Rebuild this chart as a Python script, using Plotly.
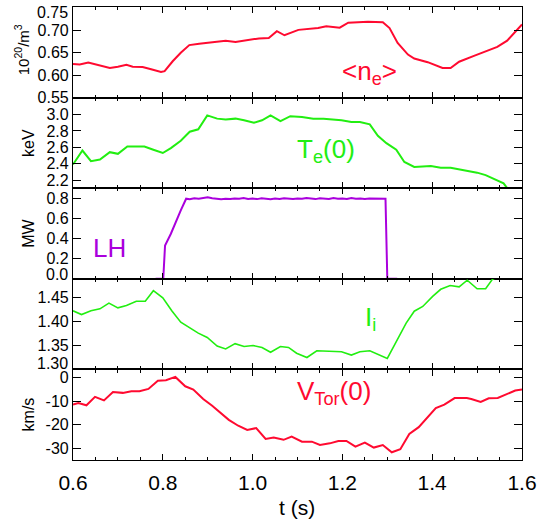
import plotly.graph_objects as go
from plotly.subplots import make_subplots

# ---------------- data ----------------
ne_t = [0.600, 0.615, 0.634, 0.660, 0.682, 0.700, 0.719, 0.733, 0.755, 0.774, 0.796,
        0.804, 0.822, 0.840, 0.859, 0.881, 0.910, 0.940, 0.962, 0.984, 1.014, 1.036,
        1.047, 1.054, 1.071, 1.102, 1.146, 1.164, 1.194, 1.213, 1.257, 1.290, 1.305,
        1.323, 1.346, 1.360, 1.390, 1.412, 1.423, 1.441, 1.460, 1.493, 1.523, 1.545,
        1.567, 1.585, 1.600]
ne_v = [0.625, 0.624, 0.628, 0.622, 0.616, 0.619, 0.623, 0.619, 0.618, 0.613, 0.607,
        0.609, 0.631, 0.650, 0.667, 0.670, 0.674, 0.677, 0.674, 0.678, 0.682, 0.683,
        0.693, 0.698, 0.689, 0.701, 0.705, 0.709, 0.706, 0.717, 0.719, 0.718, 0.705,
        0.672, 0.646, 0.637, 0.629, 0.620, 0.616, 0.616, 0.630, 0.643, 0.654, 0.663,
        0.677, 0.698, 0.713]

te_t = [0.600, 0.621, 0.640, 0.660, 0.682, 0.700, 0.721, 0.759, 0.779, 0.800, 0.818,
        0.840, 0.860, 0.879, 0.899, 0.921, 0.940, 0.962, 0.981, 1.003, 1.021, 1.040,
        1.062, 1.084, 1.110, 1.135, 1.158, 1.180, 1.198, 1.220, 1.239, 1.261, 1.279,
        1.298, 1.320, 1.338, 1.360, 1.397, 1.419, 1.441, 1.460, 1.478, 1.500, 1.519,
        1.545, 1.559, 1.567]
te_v = [2.39, 2.56, 2.43, 2.45, 2.54, 2.52, 2.61, 2.61, 2.57, 2.53, 2.59,
        2.68, 2.79, 2.82, 2.99, 2.95, 2.94, 2.95, 2.93, 2.90, 2.93, 2.99,
        2.92, 2.98, 2.97, 2.95, 2.95, 2.94, 2.93, 2.91, 2.91, 2.88, 2.74,
        2.65, 2.57, 2.42, 2.36, 2.37, 2.35, 2.35, 2.33, 2.31, 2.29, 2.26,
        2.20, 2.16, 2.10]

lh_t = [0.784, 0.801, 0.805, 0.818, 0.840, 0.852,
        0.86, 0.87, 0.88, 0.89, 0.90, 0.91, 0.92, 0.93, 0.94, 0.95,
        0.96, 0.97, 0.98, 0.99, 1.00, 1.01, 1.02, 1.03, 1.04, 1.05,
        1.06, 1.07, 1.08, 1.09, 1.10, 1.11, 1.12, 1.13, 1.14, 1.15,
        1.16, 1.17, 1.18, 1.19, 1.20, 1.21, 1.22, 1.23, 1.24, 1.25,
        1.26, 1.27, 1.28, 1.29, 1.296, 1.300, 1.322]
lh_v = [0.0, 0.0, 0.333, 0.45, 0.683, 0.80,
        0.795, 0.805, 0.80, 0.806, 0.815, 0.805, 0.798, 0.795, 0.80, 0.797,
        0.803, 0.799, 0.806, 0.798, 0.801, 0.796, 0.804, 0.800, 0.795, 0.802,
        0.798, 0.805, 0.800, 0.797, 0.803, 0.799, 0.808, 0.800, 0.796, 0.804,
        0.801, 0.797, 0.806, 0.799, 0.802, 0.798, 0.808, 0.800, 0.803, 0.797,
        0.801, 0.799, 0.804, 0.797, 0.800, 0.0, 0.0]

ii_t = [0.600, 0.619, 0.640, 0.660, 0.680, 0.700, 0.719, 0.741, 0.761, 0.779, 0.800,
        0.820, 0.840, 0.859, 0.879, 0.899, 0.921, 0.940, 0.961, 0.981, 1.001, 1.021,
        1.040, 1.062, 1.080, 1.098, 1.121, 1.143, 1.176, 1.198, 1.220, 1.239, 1.261,
        1.279, 1.300, 1.320, 1.342, 1.360, 1.379, 1.401, 1.419, 1.440, 1.460, 1.478,
        1.500, 1.519, 1.534, 1.560]
ii_v = [1.423, 1.415, 1.423, 1.427, 1.439, 1.429, 1.434, 1.443, 1.443, 1.465, 1.450,
        1.423, 1.399, 1.388, 1.376, 1.367, 1.349, 1.343, 1.354, 1.348, 1.350, 1.346,
        1.336, 1.348, 1.346, 1.334, 1.325, 1.339, 1.338, 1.337, 1.330, 1.337, 1.339,
        1.332, 1.323, 1.358, 1.397, 1.422, 1.432, 1.453, 1.468, 1.476, 1.473, 1.487,
        1.469, 1.469, 1.489, 1.500]

vt_t = [0.600, 0.612, 0.630, 0.649, 0.669, 0.689, 0.711, 0.730, 0.748, 0.768, 0.789,
        0.807, 0.828, 0.850, 0.868, 0.890, 0.910, 0.929, 0.947, 0.968, 0.988, 1.008,
        1.029, 1.047, 1.069, 1.087, 1.110, 1.132, 1.150, 1.172, 1.191, 1.209, 1.229,
        1.250, 1.270, 1.290, 1.310, 1.329, 1.349, 1.370, 1.390, 1.408, 1.427, 1.450,
        1.477, 1.487, 1.508, 1.526, 1.546, 1.565, 1.585, 1.600]
vt_v = [-11.4, -10.7, -11.7, -8.1, -9.6, -6.0, -6.4, -5.7, -5.7, -4.7, -1.2,
        -1.0, 0.4, -3.6, -5.0, -9.0, -11.9, -15.0, -17.9, -20.4, -22.2, -21.4,
        -26.0, -25.4, -26.4, -25.0, -27.2, -27.2, -28.6, -27.9, -26.9, -26.9, -29.3,
        -27.6, -29.7, -28.6, -31.7, -30.4, -23.9, -21.0, -16.5, -12.9, -11.4, -8.6,
        -8.6, -9.0, -10.3, -8.7, -8.6, -6.9, -5.4, -5.0]

x_ticks = [0.6, 0.8, 1.0, 1.2, 1.4, 1.6]
ne_ticks = [0.55, 0.60, 0.65, 0.70, 0.75]
ne_ticktext = ["0.55", "0.60", "0.65", "0.70", " "]
te_ticks = [2.2, 2.4, 2.6, 2.8, 3.0]
lh_ticks = [0.0, 0.2, 0.4, 0.6, 0.8]
lh_ticktext = [" ", "0.2", "0.4", "0.6", "0.8"]
ii_ticks = [1.30, 1.35, 1.40, 1.45]
ii_ticktext = [" ", "1.35", "1.40", "1.45"]
vt_ticks = [0, -10, -20, -30]
vt_ticktext = ["0", "-10", "-20", "-30"]
edge_labels = ["0.75", "0.0", "1.30"]

RED = "#ff0a30"
GREEN = "#22ee11"
PURPLE = "#aa00dd"
FONT = "Liberation Sans, Arial, sans-serif"

fig = make_subplots(rows=5, cols=1, shared_xaxes=True, vertical_spacing=0)

fig.add_trace(go.Scatter(x=ne_t, y=ne_v, mode="lines", line=dict(color=RED, width=2)), row=1, col=1)
fig.add_trace(go.Scatter(x=te_t, y=te_v, mode="lines", line=dict(color=GREEN, width=2)), row=2, col=1)
fig.add_trace(go.Scatter(x=lh_t, y=lh_v, mode="lines", line=dict(color=PURPLE, width=2)), row=3, col=1)
fig.add_trace(go.Scatter(x=ii_t, y=ii_v, mode="lines", line=dict(color=GREEN, width=1.6)), row=4, col=1)
fig.add_trace(go.Scatter(x=vt_t, y=vt_v, mode="lines", line=dict(color=RED, width=2)), row=5, col=1)

for r in range(1, 6):
    fig.update_xaxes(range=[0.6, 1.6], showline=True, linecolor="black", linewidth=1.2,
                     mirror="ticks", ticks="inside", ticklen=6, tickwidth=1.2, tickcolor="black",
                     tickvals=x_ticks, tickformat=".1f",
                     minor=dict(tick0=0.6, dtick=0.05, ticks="inside", ticklen=3,
                                tickwidth=1, tickcolor="black"),
                     showgrid=False, zeroline=False, showticklabels=(r == 5),
                     tickfont=dict(size=21, family=FONT, color="black"),
                     ticklabelstandoff=4, row=r, col=1)

yopts = dict(showline=True, linecolor="black", linewidth=1.2, mirror="ticks",
             ticks="inside", ticklen=8, tickwidth=1.2, tickcolor="black",
             showgrid=False, zeroline=False,
             tickfont=dict(size=16, family=FONT, color="black"))
fig.update_yaxes(range=[0.55, 0.752], tickvals=ne_ticks, ticktext=ne_ticktext, row=1, col=1, **yopts)
fig.update_yaxes(range=[2.1, 3.207], tickvals=te_ticks, tickformat=".1f", row=2, col=1, **yopts)
fig.update_yaxes(range=[0.0, 0.905], tickvals=lh_ticks, ticktext=lh_ticktext, row=3, col=1, **yopts)
fig.update_yaxes(range=[1.30, 1.49], tickvals=ii_ticks, ticktext=ii_ticktext, row=4, col=1, **yopts)
fig.update_yaxes(range=[-35, 3.6], tickvals=vt_ticks, ticktext=vt_ticktext, row=5, col=1, **yopts)

L, R, T, B = 73, 525, 6, 460
def px(x):
    return (x - L) / (R - L)
def py(y):
    return (B - y) / (B - T)

ann = []
def add(text, x, y, size, color, angle=0, xanchor="center"):
    ann.append(dict(text=text, x=px(x), y=py(y), xref="paper", yref="paper",
                    xanchor=xanchor, yanchor="middle", showarrow=False, textangle=angle,
                    font=dict(size=size, color=color, family=FONT)))

# edge tick labels, nudged inward as in the reference
for lab, ypix in zip(edge_labels, [12, 274, 363]):
    add(lab, 70, ypix, 16, "black", xanchor="right")

add("10<sup>20</sup>/m<sup>3</sup>", 22, 49, 15, "black", -90)
add("keV", 28, 142, 16, "black", -90)
add("MW", 28, 233, 16, "black", -90)
add("km/s", 28, 414, 16, "black", -90)
add("t (s)", 298, 508, 21, "black")
add("&lt;n<sub>e</sub>&gt;", 371, 72, 26, RED)
add("T<sub>e</sub>(0)", 328, 150, 26, GREEN)
add("LH", 110, 248, 26, PURPLE)
add("I<sub>i</sub>", 372, 318, 26, GREEN)
add("V<sub>Tor</sub>(0)", 336, 392, 26, RED)

fig.update_layout(width=543, height=525, margin=dict(l=L, r=543 - R, t=T, b=525 - B),
                  plot_bgcolor="white", paper_bgcolor="white", showlegend=False,
                  font=dict(family=FONT, color="black"), annotations=ann)

fig.write_html("out.html", config={"displayModeBar": False},
               post_script="document.body.style.margin='0';document.body.style.overflow='hidden';")
